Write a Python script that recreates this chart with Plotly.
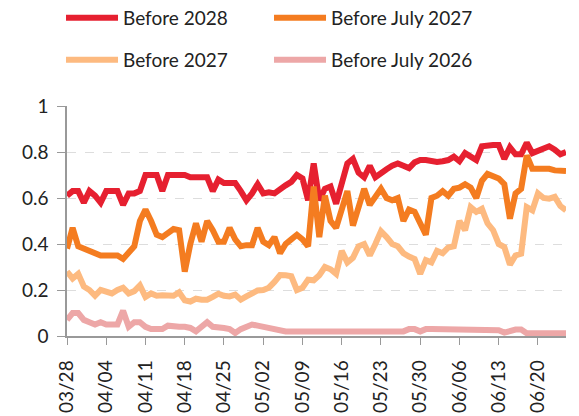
import plotly.graph_objects as go
import pandas as pd

dates = pd.date_range("2025-03-28", periods=90, freq="D")

before_2028 = [
    0.61, 0.63, 0.63, 0.58, 0.63, 0.61, 0.58, 0.63, 0.63, 0.63,
    0.57, 0.62, 0.62, 0.63, 0.70, 0.70, 0.70, 0.63, 0.70, 0.70,
    0.70, 0.70, 0.69, 0.69, 0.69, 0.69, 0.63, 0.68, 0.665, 0.665,
    0.665, 0.63, 0.59, 0.62, 0.66, 0.62, 0.625, 0.62, 0.64, 0.655,
    0.67, 0.70, 0.685, 0.59, 0.75, 0.59, 0.64, 0.65, 0.575, 0.66,
    0.75, 0.77, 0.71, 0.69, 0.74, 0.69, 0.71, 0.725, 0.74, 0.75,
    0.74, 0.73, 0.755, 0.765, 0.765, 0.76, 0.757, 0.76, 0.765, 0.78,
    0.76, 0.795, 0.78, 0.765, 0.825, 0.83, 0.83, 0.83, 0.77, 0.82,
    0.79, 0.79, 0.84, 0.795, 0.805, 0.815, 0.825, 0.81, 0.79, 0.80,
]

before_july_2027 = [
    0.38, 0.47, 0.39, 0.38, 0.37, 0.36, 0.35, 0.35, 0.35, 0.35,
    0.335, 0.36, 0.39, 0.50, 0.55, 0.50, 0.44, 0.43, 0.45, 0.465,
    0.46, 0.28, 0.40, 0.49, 0.41, 0.50, 0.46, 0.41, 0.41, 0.47,
    0.42, 0.39, 0.395, 0.395, 0.47, 0.41, 0.395, 0.43, 0.36, 0.40,
    0.42, 0.44, 0.42, 0.39, 0.65, 0.43, 0.61, 0.50, 0.47, 0.55,
    0.63, 0.48, 0.56, 0.64, 0.57, 0.60, 0.64, 0.60, 0.59, 0.60,
    0.50, 0.55, 0.54, 0.49, 0.44, 0.60, 0.61, 0.63, 0.61, 0.64,
    0.645, 0.66, 0.645, 0.60, 0.675, 0.705, 0.695, 0.685, 0.66, 0.51,
    0.62, 0.64, 0.785, 0.727, 0.727, 0.727, 0.727, 0.72, 0.717, 0.717,
]

before_2027 = [
    0.28, 0.25, 0.27, 0.215, 0.20, 0.175, 0.20, 0.195, 0.185, 0.20,
    0.21, 0.185, 0.195, 0.22, 0.17, 0.185, 0.175, 0.177, 0.175, 0.175,
    0.19, 0.155, 0.15, 0.162, 0.158, 0.158, 0.17, 0.184, 0.175, 0.172,
    0.18, 0.158, 0.172, 0.188, 0.198, 0.20, 0.21, 0.235, 0.265, 0.264,
    0.26, 0.20, 0.21, 0.245, 0.242, 0.264, 0.30, 0.29, 0.27, 0.37,
    0.32, 0.34, 0.39, 0.40, 0.35, 0.40, 0.455, 0.43, 0.40, 0.39,
    0.36, 0.345, 0.335, 0.27, 0.33, 0.32, 0.37, 0.36, 0.385, 0.39,
    0.50, 0.46, 0.56, 0.54, 0.553, 0.49, 0.46, 0.40, 0.387, 0.31,
    0.35, 0.358, 0.56, 0.546, 0.62, 0.60, 0.597, 0.605, 0.565, 0.546,
]

before_july_2026 = [
    0.07, 0.10, 0.10, 0.07, 0.06, 0.05, 0.06, 0.05, 0.05, 0.05,
    0.11, 0.04, 0.06, 0.06, 0.04, 0.03, 0.03, 0.03, 0.045, 0.04,
    0.04, 0.04, 0.035, 0.02, 0.04, 0.06, 0.04, 0.04, 0.035, 0.03,
    0.013, 0.03, 0.04, 0.05, 0.045, 0.04, 0.035, 0.03, 0.02, 0.02,
    0.02, 0.02, 0.02, 0.02, 0.02, 0.02, 0.02, 0.02, 0.02, 0.02,
    0.02, 0.02, 0.02, 0.02, 0.02, 0.02, 0.02, 0.02, 0.02, 0.02,
    0.02, 0.03, 0.03, 0.02, 0.03, 0.03, 0.03, 0.025, 0.025, 0.025,
    0.025, 0.025, 0.025, 0.025, 0.025, 0.025, 0.025, 0.025, 0.015, 0.025,
    0.028, 0.028, 0.012, 0.012, 0.012, 0.012, 0.012, 0.012, 0.012, 0.012,
]

y_ticks = [0, 0.2, 0.4, 0.6, 0.8, 1]
y_ticktext = ["0", "0.2", "0.4", "0.6", "0.8", "1"]

series = [
    ("Before 2028", before_2028, "#E62030", "legend"),
    ("Before July 2027", before_july_2027, "#F47C20", "legend"),
    ("Before 2027", before_2027, "#FDBA80", "legend2"),
    ("Before July 2026", before_july_2026, "#EDA7A7", "legend2"),
]

FONT = "Lato"
fig = go.Figure()
for name, vals, color, leg in series:
    fig.add_trace(go.Scatter(
        x=dates, y=vals, mode="lines", name=name,
        line=dict(color=color, width=6),
        legend=leg,
    ))

legend_common = dict(
    orientation="h", xanchor="left", yanchor="middle",
    font=dict(family=FONT, size=19, color="#222"),
    entrywidth=141, entrywidthmode="pixels",
    itemwidth=52, bgcolor="rgba(0,0,0,0)", tracegroupgap=0,
)

fig.update_layout(
    width=579, height=416,
    margin=dict(l=67, r=13, t=106, b=80, autoexpand=False),
    plot_bgcolor="white", paper_bgcolor="white",
    font=dict(family=FONT, size=19, color="#222"),
    legend=dict(x=-0.012, y=1.383, **legend_common),
    legend2=dict(x=-0.012, y=1.2, **legend_common),
    xaxis=dict(
        type="date",
        range=[dates[0], dates[-1]],
        tick0=dates[0], dtick=7 * 24 * 3600 * 1000,
        tickformat="%m/%d", tickangle=-90,
        showgrid=False, showline=True, linecolor="#999", linewidth=1.5,
        ticks="outside", ticklen=7, tickcolor="#999", tickwidth=1,
        ticklabelstandoff=8,
        tickfont=dict(family=FONT, size=19, color="#222"),
        zeroline=False,
    ),
    yaxis=dict(
        range=[0, 1], tickvals=y_ticks, ticktext=y_ticktext,
        showgrid=True, gridcolor="#DDDDDD", griddash="dash", gridwidth=1,
        showline=True, linecolor="#999", linewidth=1.5,
        ticks="outside", ticklen=8, tickcolor="#999", tickwidth=1,
        ticklabelstandoff=5,
        tickfont=dict(family=FONT, size=19, color="#222"),
        zeroline=False,
    ),
)

fig.write_html(
    "out.html",
    config={"displayModeBar": False},
    post_script="document.body.style.margin='0px';document.body.style.overflow='hidden';",
)
